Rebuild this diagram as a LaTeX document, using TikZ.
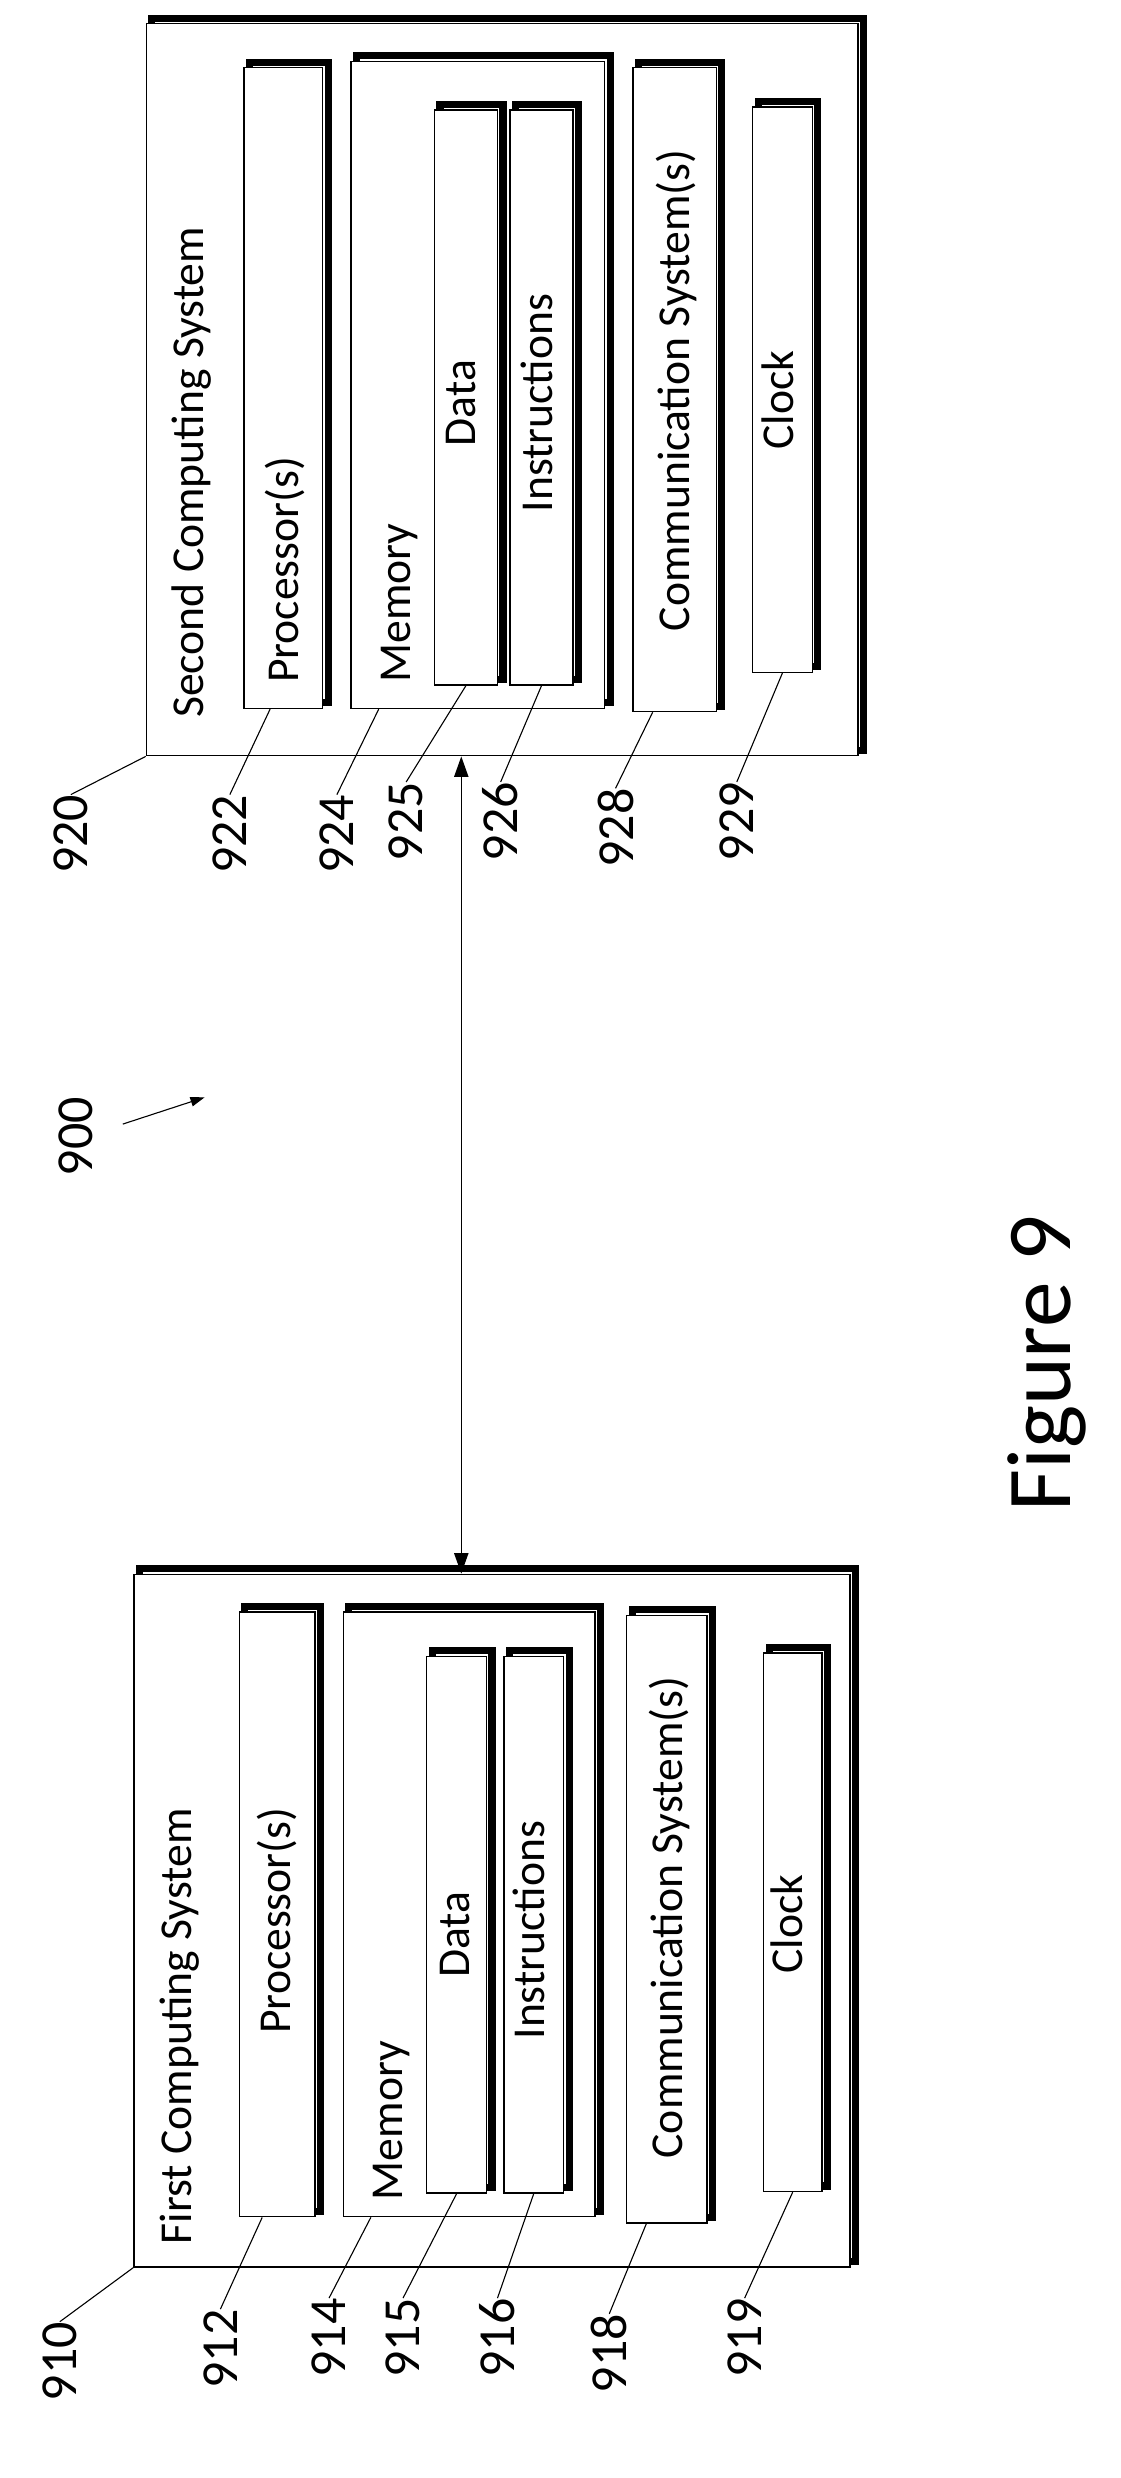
\documentclass[tikz,border=0pt]{standalone}
\usepackage{fontspec}
\setmainfont{Carlito}
\usetikzlibrary{arrows.meta, positioning, calc}
\tikzset{
    unitbox/.style={draw, fill=white, line width=0.9pt, inner sep=0pt,
        preaction={draw, line width=4.5pt, transform canvas={shift={(3.5pt,3.5pt)}}}},
    boxtext/.style={rotate=90, font=\fontsize{29}{32}\selectfont, inner sep=0pt},
    reftext/.style={rotate=90, font=\fontsize{33}{36}\selectfont, inner sep=0pt},
    leader/.style={line width=0.7pt},
    link/.style={{Triangle[length=13pt,width=9pt]}-{Triangle[length=13pt,width=9pt]}, line width=0.9pt}
}

\begin{document}
\begin{tikzpicture}[x=1pt, y=-1pt]
    \useasboundingbox (0,0) rectangle (712,1574);
    % Second computing system
    \node[unitbox, minimum width=452pt, minimum height=465pt] (sys2) at (319,247.5) {};
    \node[unitbox, minimum width=50pt, minimum height=407pt] (proc2) at (180,246.5) {};
    \node[unitbox, minimum width=161pt, minimum height=411pt] (mem2) at (303.5,244.5) {};
    \node[unitbox, minimum width=40pt, minimum height=365pt] (data2) at (296,252.5) {};
    \node[unitbox, minimum width=40pt, minimum height=365pt] (inst2) at (344,252.5) {};
    \node[unitbox, minimum width=53pt, minimum height=409pt] (comm2) at (428.5,247.5) {};
    \node[unitbox, minimum width=38pt, minimum height=359pt] (clock2) at (497,247.5) {};
    \node[boxtext] (t2) at (122,300) {Second Computing System};
    \node[boxtext] (tp2) at (181,362) {Processor(s)};
    \node[boxtext] (tm2) at (254,383) {Memory};
    \node[boxtext] (td2) at (293,256) {Data};
    \node[boxtext] (ti2) at (341,256) {Instructions};
    \node[boxtext] (tc2) at (430,248) {Communication System(s)};
    \node[boxtext] (tk2) at (494,254) {Clock};
    % Reference numerals, second system
    \node[reftext] (n920) at (45,530) {920};
    \node[reftext] (n922) at (146,530) {922};
    \node[reftext] (n924) at (214,530) {924};
    \node[reftext] (n925) at (258,522) {925};
    \node[reftext] (n926) at (318,522) {926};
    \node[reftext] (n928) at (391,526) {928};
    \node[reftext] (n929) at (468,522) {929};
    \draw[leader] (sys2.south west) -- (n920.east);
    \draw[leader] (proc2.south west) ++(17,0) -- (n922.east);
    \draw[leader] (mem2.south west) ++(18,0) -- (n924.east);
    \draw[leader] (data2.south) -- (n925.east);
    \draw[leader] (inst2.south) -- (n926.east);
    \draw[leader] (comm2.south west) ++(13,0) -- (n928.east);
    \draw[leader] (clock2.south) -- (n929.east);

    % First computing system
    \node[unitbox, minimum width=455pt, minimum height=440pt] (sys1) at (312.5,1220) {};
    \node[unitbox, minimum width=48pt, minimum height=384pt] (proc1) at (176,1216) {};
    \node[unitbox, minimum width=160pt, minimum height=384pt] (mem1) at (298,1216) {};
    \node[unitbox, minimum width=38pt, minimum height=341pt] (data1) at (290,1222.5) {};
    \node[unitbox, minimum width=38pt, minimum height=341pt] (inst1) at (339,1222.5) {};
    \node[unitbox, minimum width=51pt, minimum height=386pt] (comm1) at (423.5,1219) {};
    \node[unitbox, minimum width=37pt, minimum height=342pt] (clock1) at (503.5,1221) {};
    \node[boxtext] (t1) at (114,1287) {First Computing System};
    \node[boxtext] (tp1) at (176,1220) {Processor(s)};
    \node[boxtext] (tm1) at (249,1347) {Memory};
    \node[boxtext] (td1) at (289,1229) {Data};
    \node[boxtext] (ti1) at (336,1226) {Instructions};
    \node[boxtext] (tc1) at (425,1218) {Communication System(s)};
    \node[boxtext] (tk1) at (500,1222) {Clock};
    % Reference numerals, first system
    \node[reftext] (n910) at (38,1500) {910};
    \node[reftext] (n912) at (140,1492) {912};
    \node[reftext] (n914) at (209,1485) {914};
    \node[reftext] (n915) at (256,1485) {915};
    \node[reftext] (n916) at (316,1485) {916};
    \node[reftext] (n918) at (387,1495) {918};
    \node[reftext] (n919) at (473,1485) {919};
    \draw[leader] (sys1.south west) -- (n910.east);
    \draw[leader] (proc1.south west) ++(15,0) -- (n912.east);
    \draw[leader] (mem1.south west) ++(18,0) -- (n914.east);
    \draw[leader] (data1.south) -- (n915.east);
    \draw[leader] (inst1.south) -- (n916.east);
    \draw[leader] (comm1.south west) ++(13,0) -- (n918.east);
    \draw[leader] (clock1.south) -- (n919.east);

    % Link between the systems
    \draw[link] (sys2.south -| 293,0) -- (sys1.north -| 293,0);
    \node[reftext] (n900) at (48,722) {900};
    \coordinate (c900) at (130,697);
    \draw[leader, -{Triangle[length=9pt,width=6pt]}] (n900) ++(30,-8) -- (c900);
    \node[rotate=90, font=\fontsize{58}{62}\selectfont, inner sep=0pt] (fig) at (665,866) {Figure 9};
\end{tikzpicture}
\end{document}
